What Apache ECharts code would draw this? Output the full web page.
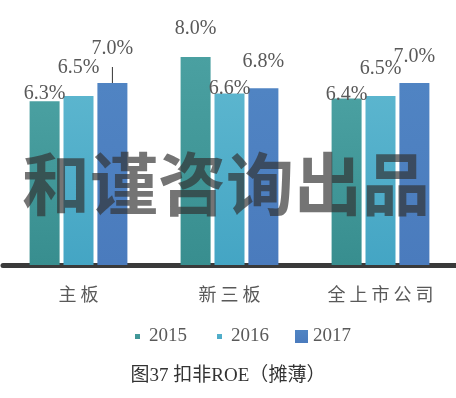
<!DOCTYPE html>
<html>
<head>
<meta charset="utf-8">
<script src="https://cdn.jsdelivr.net/npm/echarts@6/dist/echarts.min.js"></script>
<style>
  html, body { margin: 0; padding: 0; background: #fff; }
  #chart { width: 456px; height: 398px; }
</style>
</head>
<body>
<div id="chart"></div>
<script>
// 数据
const categories = ['主板', '新三板', '全上市公司']
const years = ['2015', '2016', '2017']
const roe2015 = [6.3, 8.0, 6.4]
const roe2016 = [6.5, 6.6, 6.5]
const roe2017 = [7.0, 6.8, 7.0]

const serif = '"Liberation Serif", "Noto Sans CJK SC", serif'
const colors = [
  ['#4aa0a1', '#388e8f'],
  ['#5bb5ce', '#44a5c4'],
  ['#5084c3', '#4a7bbd']
]
// 标签离柱顶的距离（原图里标签被手动挪过）
const labelLift = [
  [0, 21, -3],
  [21, -2, 20],
  [null, 19, 19]
]

function grad(c) {
  return {
    type: 'linear', x: 0, y: 0, x2: 0, y2: 1,
    colorStops: [{ offset: 0, color: c[0] }, { offset: 1, color: c[1] }]
  }
}

function buildSeries(name, values, idx) {
  return {
    name: name,
    type: 'bar',
    barWidth: 30,
    barGap: '13%',
    itemStyle: { color: grad(colors[idx]) },
    label: {
      show: true,
      position: 'top',
      fontFamily: serif,
      fontSize: 20,
      color: '#595959',
      formatter: p => p.value.toFixed(1) + '%'
    },
    data: values.map((v, i) => {
      const lift = labelLift[idx][i]
      if (lift === null) {
        // 带引导线的标签
        return {
          value: v,
          label: {
            distance: 0,
            formatter: p => '{t|' + p.value.toFixed(1) + '%}\n{ln|}',
            rich: {
              t: { fontFamily: serif, fontSize: 20, color: '#595959', lineHeight: 37 },
              ln: { width: 1, height: 16, backgroundColor: '#333' }
            }
          }
        }
      }
      return { value: v, label: { distance: lift - 3 } }
    })
  }
}

const chart = echarts.init(document.getElementById('chart'))
const smallBox = 'path://M0 0M13 13M4 4L9 4L9 9L4 9Z'
const bigBox = 'path://M0 0L13 0L13 13L0 13Z'

chart.setOption({
  animation: false,
  grid: { left: 3, right: 0, top: 5, bottom: 133 },
  legend: {
    left: 126,
    top: 322,
    itemWidth: 13,
    itemHeight: 13,
    itemGap: 26,
    textStyle: { fontFamily: serif, fontSize: 19, color: '#595959' },
    data: [
      { name: years[0], icon: smallBox },
      { name: years[1], icon: smallBox },
      { name: years[2], icon: bigBox }
    ]
  },
  xAxis: {
    type: 'category',
    data: categories,
    axisLine: { lineStyle: { color: '#3a3a3a', width: 5 } },
    axisTick: { show: false },
    axisLabel: {
      margin: 20,
      fontFamily: '"Noto Sans CJK SC", sans-serif',
      fontSize: 18,
      color: '#595959',
      formatter: v => v.split('').join(' ')
    }
  },
  yAxis: {
    type: 'value',
    min: 0,
    max: 10,
    show: false,
    splitLine: { show: false }
  },
  graphic: [
    {
      type: 'text',
      left: 22,
      top: 150,
      z: 100,
      style: {
        text: '和谨咨询出品',
        fontFamily: '"Noto Sans CJK SC", sans-serif',
        fontWeight: 'bold',
        fontSize: 68,
        fill: 'rgba(50,50,50,0.68)'
      }
    },
    {
      type: 'text',
      left: 'center',
      top: 367,
      style: {
        text: '图37 扣非ROE（摊薄）',
        fontFamily: serif,
        fontSize: 19,
        fill: '#333'
      }
    }
  ],
  series: [
    buildSeries(years[0], roe2015, 0),
    buildSeries(years[1], roe2016, 1),
    buildSeries(years[2], roe2017, 2)
  ]
})
</script>
</body>
</html>
